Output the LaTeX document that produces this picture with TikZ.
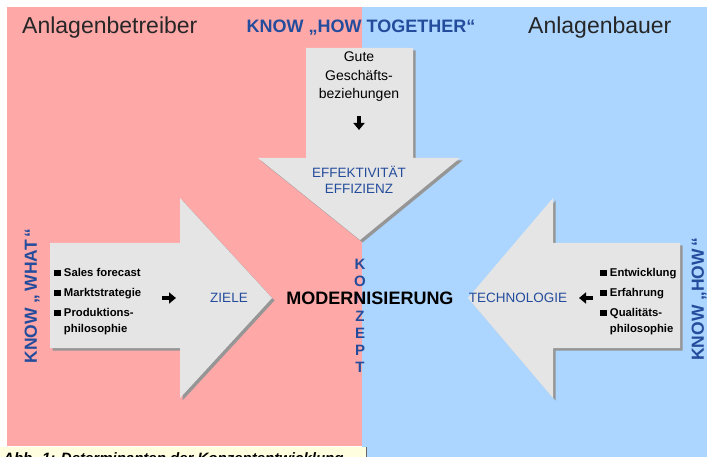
\documentclass[tikz,border=0pt]{standalone}
\usepackage{fontspec}
\setmainfont{Liberation Sans}
\usetikzlibrary{arrows.meta,positioning}
\definecolor{betrpink}{RGB}{255,168,168}
\definecolor{bauerblue}{RGB}{172,214,255}
\definecolor{arrowgray}{RGB}{229,229,229}
\definecolor{shadowgray}{RGB}{150,150,150}
\definecolor{knowblue}{RGB}{36,76,156}
\definecolor{captionyellow}{RGB}{255,255,224}
\newcommand{\sq}{\rule{0.6em}{0.6em}}

\tikzset{
  bigarrow/.style={fill=arrowgray},
  arrowshadow/.style={fill=shadowgray, shift={(2.5,2.5)}},
  sidetitle/.style={anchor=west, inner sep=0pt, text=black!85, font=\fontsize{23}{26}\selectfont},
  knowtext/.style={text=knowblue, inner sep=0pt, font=\bfseries\fontsize{17.5}{20}\selectfont},
  keytext/.style={text=knowblue, inner sep=0pt, font=\fontsize{13.5}{16}\selectfont},
  listtext/.style={anchor=north west, inner sep=0pt, font=\bfseries\fontsize{11.3}{16}\selectfont},
  smallarrow/.style={-{Triangle[length=7pt,width=11pt]}, line width=3.2pt},
}

\begin{document}
\begin{tikzpicture}[x=1pt,y=-1pt]
  \useasboundingbox (0,0) rectangle (707,457);
  \clip (0,0) rectangle (707,457);
  % Dimensions of the side arrows
  \def\shaftT{243}
  \def\shaftB{348}
  \def\headT{198}
  \def\headB{398}
  \def\midY{298}

  % Two halves
  \fill[white] (0,0) rectangle (707,457);
  \fill[betrpink] (7,7) rectangle (362,446);
  \fill[bauerblue] (362,7) rectangle (707,457);

  % Caption box (cut off at the bottom)
  \fill[captionyellow] (0,447) rectangle (366,457);
  \draw[black!60, line width=0.6pt] (366,447) -- (366,457);
  \node[anchor=base west, inner sep=0pt, font=\bfseries\itshape\fontsize{15}{17}\selectfont] (caption) at (3,463) {Abb. 1: Determinanten der Konzeptentwicklung};

  % Arrow from the top
  \foreach \s in {arrowshadow,bigarrow} {
    \path[\s] (306,48) -- (413,48) -- (413,158) -- (460,158) -- (360,240) -- (258,158) -- (306,158) -- cycle;
  }
  % Arrow from the left
  \foreach \s in {arrowshadow,bigarrow} {
    \path[\s] (50,\shaftT) -- (180,\shaftT) -- (180,\headT) -- (272,\midY) -- (180,\headB) -- (180,\shaftB) -- (50,\shaftB) -- cycle;
  }
  % Arrow from the right
  \foreach \s in {arrowshadow,bigarrow} {
    \path[\s] (680,\shaftT) -- (553,\shaftT) -- (553,\headT) -- (468,\midY) -- (553,\headB) -- (553,\shaftB) -- (680,\shaftB) -- cycle;
  }

  % Headings
  \node[sidetitle] (betreiber) at (22,28) {Anlagenbetreiber};
  \node[knowtext, font=\bfseries\fontsize{18}{20}\selectfont] (together) at (361,28) {KNOW „HOW TOGETHER“};
  \node[sidetitle] (bauer) at (528,28) {Anlagenbauer};

  % Top arrow texts
  \node[align=center, inner sep=0pt, font=\fontsize{14}{18.5}\selectfont] (gute) at (359,77) {Gute\\Geschäfts-\\beziehungen};
  \coordinate (gutearrA) at (359,116);
  \coordinate (gutearrB) at (359,130);
  \draw[smallarrow] (gutearrA) -- (gutearrB);
  \node[keytext, align=center] (effekt) at (359,180) {EFFEKTIVITÄT\\EFFIZIENZ};

  % Left arrow texts
  \node[knowtext, rotate=90] (what) at (32,296) {KNOW „\,WHAT\,“};
  \node[listtext] (ziellist) at (54,265) {\begin{tabular}{@{}l@{\hspace{3pt}}l@{}}
    \sq & Sales forecast\\[4pt]
    \sq & Marktstrategie\\[4pt]
    \sq & Produktions-\\
        & philosophie
  \end{tabular}};
  \coordinate (zielarrA) at (162,\midY);
  \coordinate (zielarrB) at (176,\midY);
  \draw[smallarrow] (zielarrA) -- (zielarrB);
  \node[keytext] (ziele) at (229,\midY) {ZIELE};

  % Right arrow texts
  \node[knowtext, rotate=90] (how) at (699,299) {KNOW „HOW\,“};
  \node[listtext] (techlist) at (600,265) {\begin{tabular}{@{}l@{\hspace{3pt}}l@{}}
    \sq & Entwicklung\\[4pt]
    \sq & Erfahrung\\[4pt]
    \sq & Qualitäts-\\
        & philosophie
  \end{tabular}};
  \coordinate (techarrA) at (593,\midY);
  \coordinate (techarrB) at (579,\midY);
  \draw[smallarrow] (techarrA) -- (techarrB);
  \node[keytext] (technologie) at (518,\midY) {TECHNOLOGIE};

  % Centre: KONZEPT (vertical) and MODERNISIERUNG
  \foreach \l [count=\i from 0] in {K,O,N,Z,E,P,T} {
    \node[knowtext, font=\bfseries\fontsize{15}{18}\selectfont] (konzept\i) at (360,{264+17.3*\i}) {\l};
  }
  \node[inner sep=0pt, font=\bfseries\fontsize{18}{20}\selectfont] (modern) at (370,\midY) {MODERNISIERUNG};
\end{tikzpicture}
\end{document}
